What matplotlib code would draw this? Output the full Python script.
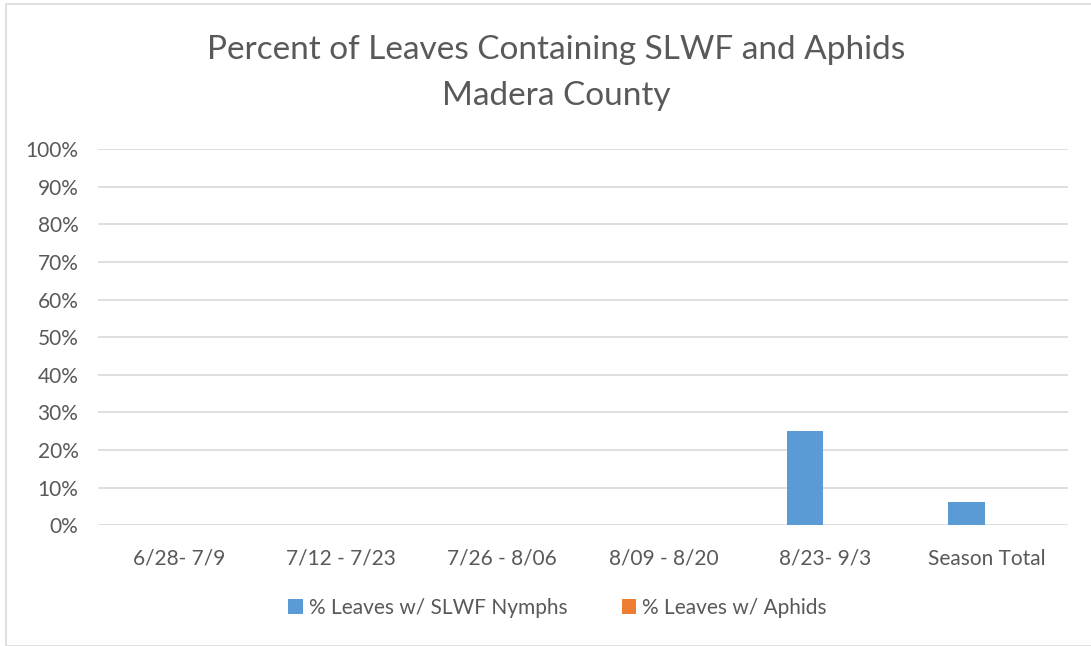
import matplotlib.pyplot as plt
import numpy as np
from matplotlib.patches import Rectangle

categories = ['6/28- 7/9', '7/12 - 7/23', '7/26 - 8/06', '8/09 - 8/20', '8/23- 9/3', 'Season Total']
slwf_nymphs = [0, 0, 0, 0, 25, 6.25]
aphids = [0, 0, 0, 0, 0, 0]
series_names = ['% Leaves w/ SLWF Nymphs', '% Leaves w/ Aphids']
yticks = list(range(0, 101, 10))

plt.rcParams['font.family'] = ['Lato', 'DejaVu Sans']
text_color = '#595959'

fig = plt.figure(figsize=(10.91, 6.46), dpi=100)
ax = fig.add_axes([0.0898, 0.187, 0.889, 0.582])

x = np.arange(len(categories))
w = 0.225
ax.bar(x - w / 2 - 0.015, slwf_nymphs, w, color='#5b9bd5', label=series_names[0], zorder=3)
ax.bar(x + w / 2 - 0.015, aphids, w, color='#ed7d31', label=series_names[1], zorder=3)

ax.set_xlim(-0.5, len(categories) - 0.5)
ax.set_ylim(0, 100)
ax.set_yticks(yticks)
ax.set_yticklabels([f'{v}%' for v in yticks])
ax.set_xticks(x)
ax.set_xticklabels(categories)
ax.tick_params(axis='both', length=0, labelsize=15, colors=text_color)
ax.tick_params(axis='x', pad=17)
ax.tick_params(axis='y', pad=14)
ax.grid(axis='y', color='#d9d9d9', linewidth=1.2, zorder=0)
for s in ax.spines.values():
    s.set_visible(False)

fig.text(0.51, 0.887, 'Percent of Leaves Containing SLWF and Aphids\nMadera County',
         ha='center', va='center', fontsize=24, color=text_color, linespacing=1.65)

leg = fig.legend(loc='center', bbox_to_anchor=(0.511, 0.059), ncol=2, frameon=False,
                 fontsize=15, handlelength=0.7, handleheight=0.7, handletextpad=0.3,
                 columnspacing=2.6)
for t in leg.get_texts():
    t.set_color(text_color)

fig.patches.append(Rectangle((0.0055, 0.0), 1.0, 0.994, transform=fig.transFigure,
                             fill=False, edgecolor='#d9d9d9', linewidth=1.2))

fig.savefig('out.png', dpi=100)
